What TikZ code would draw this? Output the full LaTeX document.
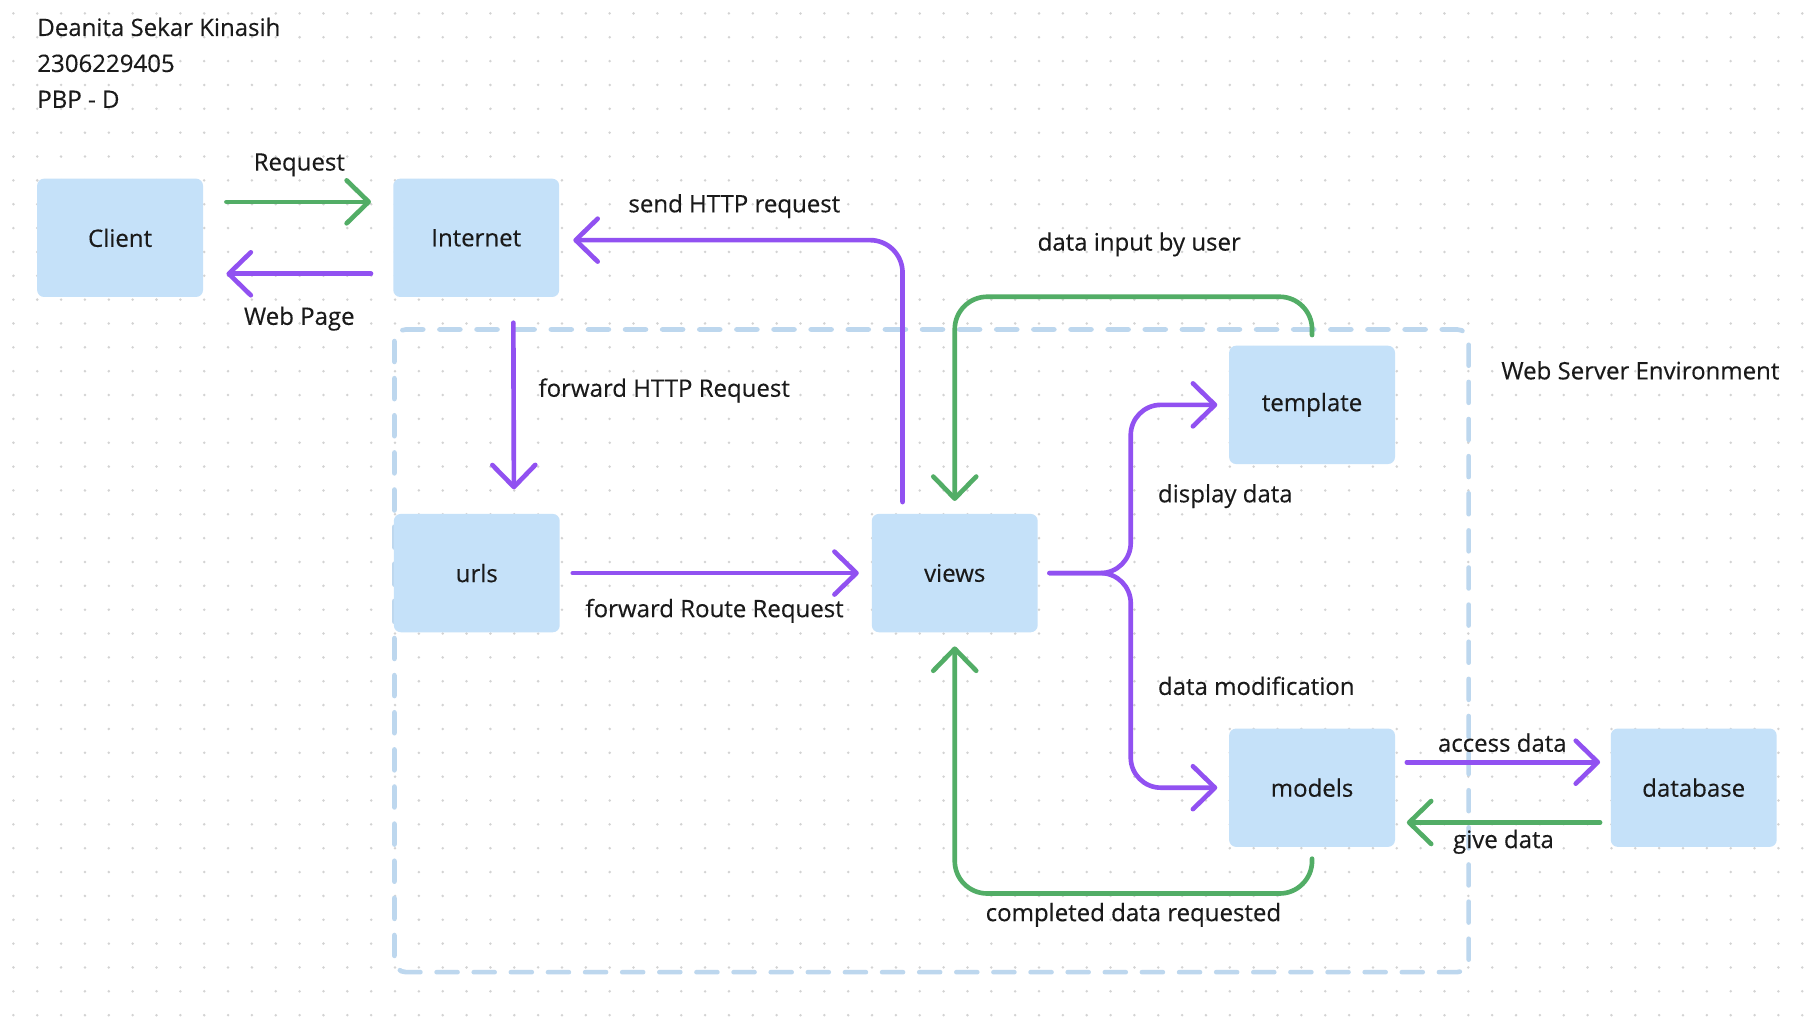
\documentclass[tikz,border=0pt]{standalone}
\usepackage{fontspec}
\setmainfont{Open Sans}[FakeBold=0.3]
\usetikzlibrary{arrows.meta}
\definecolor{boxc}{HTML}{C5E1F9}
\definecolor{greenc}{HTML}{52AD66}
\definecolor{purplec}{HTML}{9151F1}
\definecolor{dashc}{HTML}{BDD7EE}
\definecolor{textc}{HTML}{1A1A1A}
\definecolor{dotc}{HTML}{D3D3D3}
\begin{document}
\begin{tikzpicture}[x=1pt,y=-1pt,
  every node/.style={font=\fontsize{20.7}{24}\selectfont, text=textc},
  box/.style={fill=boxc, rounded corners=6pt, minimum width=143pt, minimum height=102pt, inner sep=0pt},
  lbl/.style={inner sep=0pt},
  conn/.style={line width=4pt, line cap=round, line join=round, -{Straight Barb[length=19pt,width=37pt,round]}},
  garrow/.style={conn, draw=greenc},
  parrow/.style={conn, draw=purplec},
]
\useasboundingbox (0,0) rectangle (1568,878.4);
\fill[white] (0,0) rectangle (1568,878.4);
\foreach \i in {0,...,75}{\foreach \j in {0,...,42}{\fill[dotc] (11.55+20.56*\i,11.55+20.56*\j) circle (1.2);}}

% header
\node[lbl, anchor=base west] (name) at (32,31) {Deanita Sekar Kinasih};
\node[lbl, anchor=base west] (npm) at (32,62) {2306229405};
\node[lbl, anchor=base west] (cls) at (32,93) {PBP - D};

% web server environment frame
\draw[dashc, line width=4pt, line cap=round, dash pattern=on 18pt off 14pt, rounded corners=10pt] (340,284) rectangle (1266,838);
\node[lbl, anchor=base west] (wse) at (1294,327) {Web Server Environment};

% boxes
\node[box] (client) at (103.5,205) {Client};
\node[box] (internet) at (410.5,205) {Internet};
\node[box] (urls) at (411,494) {urls};
\node[box] (views) at (823,494) {views};
\node[box] (template) at (1131,349) {template};
\node[box] (models) at (1131,679) {models};
\node[box] (database) at (1460,679) {database};

% connectors
\draw[garrow] ([xshift=20pt,yshift=31pt]client.east) -- ([xshift=-19pt,yshift=31pt]internet.west);
\draw[parrow] ([xshift=-19pt,yshift=-31pt]internet.west) -- ([xshift=20pt,yshift=-31pt]client.east);
\draw[parrow, rounded corners=28pt] ([xshift=-45pt,yshift=10pt]views.north) |- ([xshift=12pt,yshift=-2pt]internet.east);
\draw[parrow] ([xshift=32pt,yshift=-22pt]internet.south) -- ([xshift=32pt,yshift=21pt]urls.north);
\draw[parrow] ([xshift=11pt]urls.east) -- ([xshift=-11pt]views.west);
\draw[garrow, rounded corners=28pt] ([yshift=9pt]template.north) -- ++(0,-33) -| ([yshift=11pt]views.north);
\coordinate (split) at ([xshift=10pt]views.east);
\draw[parrow, rounded corners=26pt] (split) -- ++(70,0) |- ([xshift=-10pt]template.west);
\draw[parrow, rounded corners=26pt] (split) -- ++(70,0) |- ([xshift=-10pt]models.west);
\draw[garrow, rounded corners=28pt] ([yshift=-10pt]models.south) -- ++(0,30) -| ([yshift=-12pt]views.south);
\draw[parrow] ([xshift=10pt,yshift=22pt]models.east) -- ([xshift=-9pt,yshift=22pt]database.west);
\draw[garrow] ([xshift=-9pt,yshift=-30pt]database.west) -- ([xshift=10pt,yshift=-30pt]models.east);

% labels
\node[lbl, anchor=base] (lreq) at (258,147) {Request};
\node[lbl, anchor=base] (lweb) at (258,280) {Web Page};
\node[lbl, anchor=base] (lsend) at (633,183) {send HTTP request};
\node[lbl, anchor=base west] (lfwd) at (464,342) {forward HTTP Request};
\node[lbl, anchor=base] (lroute) at (616,532) {forward Route Request};
\node[lbl, anchor=base] (linput) at (982,216) {data input by user};
\node[lbl, anchor=base west] (ldisp) at (998,433) {display data};
\node[lbl, anchor=base west] (lmod) at (998,599) {data modification};
\node[lbl, anchor=base] (lcomp) at (977,794) {completed data requested};
\node[lbl, anchor=base] (lacc) at (1295,648) {access data};
\node[lbl, anchor=base] (lgive) at (1296,731) {give data};
\end{tikzpicture}
\end{document}
